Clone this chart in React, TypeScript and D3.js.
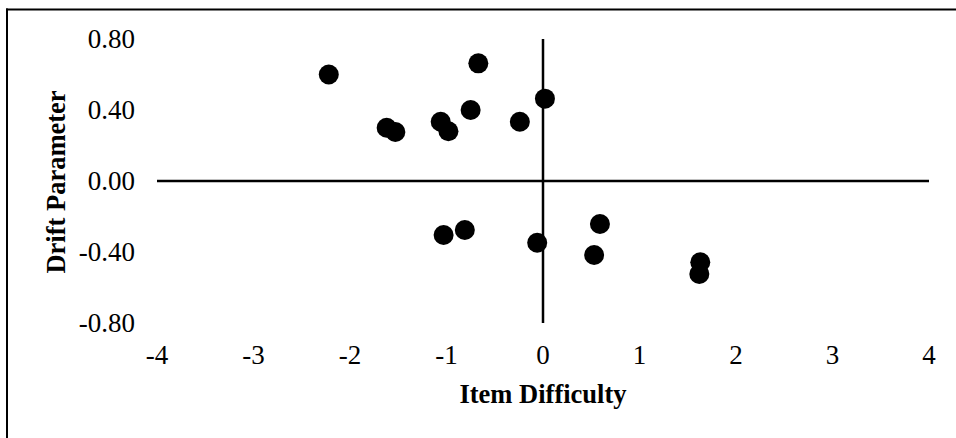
import React from 'react';
import * as d3 from 'd3';

// item difficulty (x) and drift parameter (y)
const difficulty = [-2.22, -1.62, -1.53, -1.06, -0.98, -0.75, -0.67, -0.24, 0.02,
  -1.03, -0.81, -0.06, 0.59, 0.53, 1.63, 1.62];
const drift = [0.6, 0.3, 0.276, 0.334, 0.28, 0.4, 0.663, 0.334, 0.464,
  -0.304, -0.276, -0.348, -0.242, -0.417, -0.458, -0.524];
const xTicks = [-4, -3, -2, -1, 0, 1, 2, 3, 4];
const yTicks = [0.8, 0.4, 0, -0.4, -0.8];

const width = 956;
const height = 438;
const font = '"Liberation Serif", "Times New Roman", serif';

const App = () => {
  const x = d3.scaleLinear().domain([-4, 4]).range([157, 929]);
  const y = d3.scaleLinear().domain([-0.8, 0.8]).range([323, 39]);
  // plain hyphen minus like the original
  const fmt = (v: number) => d3.format('.2f')(v).replace('\u2212', '-');

  return (
    <svg width={width} height={height}
      style={{ position: 'absolute', left: 0, top: 0, background: '#fff' }}>
      {/* frame: only top and left edges visible */}
      <line x1={6} x2={width} y1={9.5} y2={9.5} stroke="#000" strokeWidth={2} />
      <line x1={7} x2={7} y1={8.5} y2={height} stroke="#000" strokeWidth={2} />

      {/* axes through zero */}
      <line x1={x(-4)} x2={x(4)} y1={y(0)} y2={y(0)} stroke="#000" strokeWidth={2.5} />
      <line x1={x(0)} x2={x(0)} y1={y(0.8)} y2={y(-0.8)} stroke="#000" strokeWidth={2.5} />

      {yTicks.map(t => (
        <text key={t} x={135} y={y(t)} dy="0.35em" textAnchor="end"
          fontFamily={font} fontSize={27} fill="#000">{fmt(t)}</text>
      ))}
      {xTicks.map(t => (
        <text key={t} x={x(t)} y={364} textAnchor="middle"
          fontFamily={font} fontSize={27} fill="#000">{String(t)}</text>
      ))}

      <text x={543} y={403} textAnchor="middle" fontFamily={font} fontSize={26.5}
        fontWeight="bold" fill="#000">Item Difficulty</text>
      <text transform={`translate(65,182) rotate(-90)`} textAnchor="middle"
        fontFamily={font} fontSize={26.5} fontWeight="bold" fill="#000">Drift Parameter</text>

      {difficulty.map((d, i) => (
        <circle key={i} cx={x(d)} cy={y(drift[i])} r={10} fill="#000" />
      ))}
    </svg>
  );
};

export default App;
